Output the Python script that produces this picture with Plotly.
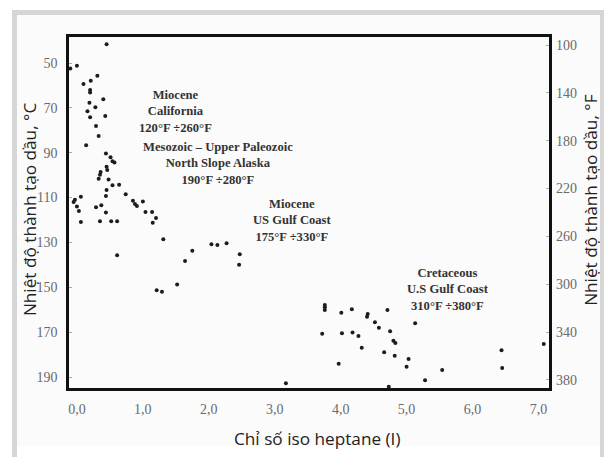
import plotly.graph_objects as go

# Data: iso-heptane index (I) vs oil formation temperature (°C)
iso_heptane = [
    0.45, 0.00, -0.10, 0.31, 0.21, 0.10, 0.20, 0.20, 0.40, 0.19,
    0.28, 0.16, 0.20, 0.43, 0.29, 0.33, 0.14, 0.44, 0.51, 0.54,
    0.57, 0.45, 0.46, 0.36, 0.35, 0.33, 0.48, 0.54, 0.64, 0.45,
    0.44, 0.74, 0.06, -0.03, -0.05, 0.85, 0.88, 0.91, 1.00, 0.00,
    0.03, 0.29, 0.37, 0.44, 1.04, 1.14, 1.20, 1.15, 0.06, 0.35,
    0.52, 0.61, 1.31, 0.61, 1.75, 1.64, 1.52, 1.21, 1.29, 2.04,
    2.13, 2.27, 2.47, 2.46, 3.17, 3.76, 3.76, 3.76, 4.01, 4.17,
    4.41, 4.40, 4.71, 4.52, 4.58, 5.13, 3.72, 4.02, 4.18, 4.27,
    4.75, 4.80, 4.83, 4.32, 4.66, 4.82, 5.03, 5.00, 3.97, 5.54,
    5.28, 4.73, 6.44, 6.45, 7.08,
]
temp_c = [
    41.6, 51.2, 52.5, 55.7, 57.9, 59.4, 62.0, 63.2, 66.2, 67.7,
    69.7, 71.5, 74.2, 73.6, 78.1, 82.5, 86.7, 90.3, 92.0, 93.8,
    94.4, 96.2, 97.7, 98.6, 99.8, 101.6, 101.9, 104.5, 104.3, 106.6,
    109.3, 108.5, 109.6, 111.0, 112.0, 111.4, 112.9, 113.8, 111.7, 114.0,
    116.0, 114.3, 113.4, 116.7, 116.4, 116.4, 119.1, 121.2, 120.9, 120.6,
    120.6, 120.6, 128.6, 135.7, 133.7, 138.3, 148.7, 151.3, 152.0, 130.8,
    131.1, 130.4, 135.3, 139.9, 192.8, 157.9, 158.9, 160.1, 161.3, 159.8,
    161.9, 163.1, 160.1, 165.6, 168.0, 166.0, 170.7, 170.5, 170.2, 171.7,
    169.6, 173.8, 174.8, 176.9, 179.0, 180.5, 182.0, 185.4, 184.1, 186.9,
    191.5, 194.3, 178.1, 186.0, 175.3,
]

x_ticks = [0, 1, 2, 3, 4, 5, 6, 7]
x_tick_text = ["0,0", "1,0", "2,0", "3,0", "4,0", "5,0", "6,0", "7,0"]
c_ticks = [50, 70, 90, 110, 130, 150, 170, 190]
f_ticks = [100, 140, 180, 220, 260, 300, 340, 380]

group_labels = [
    "Miocene<br>California<br>120°F ÷260°F",
    "Mesozoic – Upper Paleozoic<br>North Slope Alaska<br>190°F ÷280°F",
    "Miocene<br>US Gulf Coast<br>175°F ÷330°F",
    "Cretaceous<br>U.S Gulf Coast<br>310°F ÷380°F",
]
label_pos = [(1.49, 71.8), (2.14, 94.6), (3.26, 120.0), (5.63, 151.2)]

x_title = "Chỉ số iso heptane (I)"
yc_title = "Nhiệt độ thành tạo dầu, °C"
yf_title = "Nhiệt độ thành tạo dầu, °F"

fig = go.Figure()
fig.add_trace(go.Scatter(
    x=iso_heptane, y=temp_c, mode="markers",
    marker=dict(size=4, color="#1c1c1c"),
    showlegend=False, cliponaxis=False,
))
# invisible trace to activate the right (°F) axis
fig.add_trace(go.Scatter(x=[None], y=[None], yaxis="y2", showlegend=False))

tick_font = dict(family="Liberation Serif, Times New Roman, serif", size=14, color="#6a6a6a")
label_font = dict(family="Liberation Serif, Times New Roman, serif", size=12.6, color="#333333")
title_font = dict(family="Open Sans, Noto Sans, sans-serif", size=17.2, color="#222222")

annotations = []
for txt, (ax, ay) in zip(group_labels, label_pos):
    annotations.append(dict(x=ax, y=ay, xref="x", yref="y", text="<b>" + txt + "</b>",
                            showarrow=False, font=label_font, align="center",
                            xanchor="center", yanchor="middle"))
annotations += [
    dict(x=0.517, y=-0.145, xref="paper", yref="paper", text=x_title, showarrow=False,
         font=title_font, xanchor="center", yanchor="middle"),
    dict(x=-0.081, y=0.51, xref="paper", yref="paper", text=yc_title, showarrow=False,
         font=title_font, textangle=-90, xanchor="center", yanchor="middle"),
    dict(x=1.0875, y=0.536, xref="paper", yref="paper", text=yf_title, showarrow=False,
         font=title_font, textangle=-90, xanchor="center", yanchor="middle"),
]

shapes = [
    dict(type="rect", xref="paper", yref="paper", x0=-0.11875, x1=1.13, y0=-0.23, y1=1.0769,
         fillcolor="#d6d6d6", line=dict(width=0), layer="below"),
    dict(type="rect", xref="paper", yref="paper", x0=-0.10833, x1=1.10625, y0=-0.16524, y1=1.06268,
         fillcolor="#fbfbfb", line=dict(width=0), layer="below"),
    dict(type="rect", xref="paper", yref="paper", x0=-0.10833, x1=1.10625, y0=-0.23, y1=-0.16524,
         fillcolor="#ffffff", line=dict(width=0), layer="below"),
]

fig.update_layout(
    width=604, height=457,
    margin=dict(l=69, r=55, t=37, b=69),
    paper_bgcolor="#ffffff",
    plot_bgcolor="rgba(0,0,0,0)",
    xaxis=dict(range=[-0.12, 7.16], tickvals=x_ticks, ticktext=x_tick_text,
               showgrid=False, zeroline=False, showline=True, linewidth=2.5, linecolor="#111111",
               mirror=True, ticks="", tickfont=tick_font, ticklabelstandoff=6),
    yaxis=dict(range=[194.9, 38.4], tickvals=c_ticks, showgrid=False, zeroline=False,
               showline=True, linewidth=2.5, linecolor="#111111", mirror=True,
               ticks="inside", ticklen=3, tickcolor="#aaaaaa", tickfont=tick_font,
               ticklabelstandoff=6),
    yaxis2=dict(range=[386.8, 93.3], tickvals=f_ticks, overlaying="y", side="right",
                showgrid=False, zeroline=False, showline=False,
                ticks="inside", ticklen=3, tickcolor="#aaaaaa", tickfont=tick_font,
                ticklabelstandoff=6),
    annotations=annotations,
    shapes=shapes,
)

fig.write_html("out.html")
